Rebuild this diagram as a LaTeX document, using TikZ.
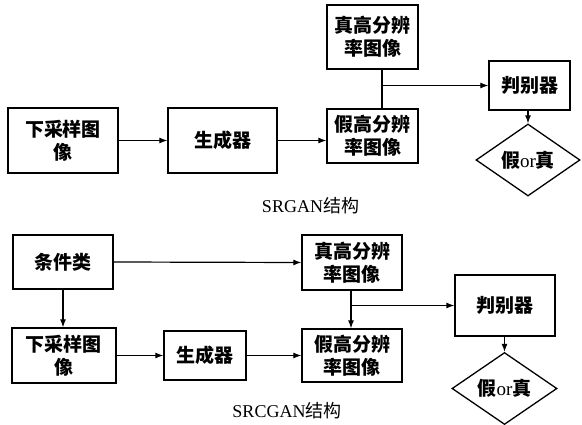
\documentclass[tikz,border=0pt]{standalone}
\usepackage{fontspec}
\setmainfont{Liberation Serif}
\newfontfamily\cjk{Noto Sans CJK SC}
\usetikzlibrary{shapes.geometric,arrows.meta}

\begin{document}
\begin{tikzpicture}[x=1pt,y=-1pt,
  box/.style={draw,line width=1.3pt,inner sep=0pt,align=center,font=\cjk\bfseries\fontsize{19}{23}\selectfont},
  judge/.style={draw,diamond,line width=1.3pt,inner sep=0pt,font=\fontsize{19}{23}\selectfont},
  caption/.style={font=\fontsize{18}{20}\selectfont},
  flow/.style={line width=1.2pt,-{Latex[length=8pt,width=6pt]}},
  link/.style={line width=1.2pt}]
\useasboundingbox (0,0) rectangle (582,425);

% SRGAN
\node [box,minimum width=110pt,minimum height=65pt] (ds1) at (63,140.5) {下采样图\\像};
\node [box,minimum width=109pt,minimum height=65pt] (gen1) at (222.5,140.5) {生成器};
\node [box,minimum width=91pt,minimum height=64pt] (real1) at (372.5,37) {真高分辨\\率图像};
\node [box,minimum width=91pt,minimum height=54pt] (fake1) at (372.5,136) {假高分辨\\率图像};
\node [box,minimum width=81pt,minimum height=49pt] (disc1) at (529.5,85.5) {判别器};
\node [judge,minimum width=104pt,minimum height=66pt] (out1) at (528,160) {{\cjk\bfseries 假}or{\cjk\bfseries 真}};
\node [caption] (cap1) at (310.5,206) {SRGAN{\cjk 结构}};
\coordinate (j1) at (382,85.5);

\draw [flow] (ds1.east) -- (gen1.west);
\draw [flow] (gen1.east) -- (gen1.east -| fake1.west);
\draw [link] (real1.south -| j1) -- (fake1.north -| j1);
\draw [flow] (j1) -- (disc1.west);
\draw [flow] (disc1.south -| out1.north) -- (out1.north);

% SRCGAN
\node [box,minimum width=100pt,minimum height=54pt] (cond2) at (63,262) {条件类};
\node [box,minimum width=104pt,minimum height=55pt] (ds2) at (64,355.5) {下采样图\\像};
\node [box,minimum width=82pt,minimum height=49pt] (gen2) at (205,355.5) {生成器};
\node [box,minimum width=100pt,minimum height=55pt] (real2) at (352,262.5) {真高分辨\\率图像};
\node [box,minimum width=100pt,minimum height=53pt] (fake2) at (352,355.5) {假高分辨\\率图像};
\node [box,minimum width=100pt,minimum height=61pt] (disc2) at (505,305.5) {判别器};
\node [judge,minimum width=105pt,minimum height=63pt] (out2) at (504.5,388.5) {{\cjk\bfseries 假}or{\cjk\bfseries 真}};
\node [caption] (cap2) at (287,411) {SRCGAN{\cjk 结构}};
\coordinate (j2) at (351,305.5);

\draw [flow] (cond2.south -| 63,0) -- (ds2.north -| 63,0);
\draw [flow] (cond2.east) -- (real2.west);
\draw [flow] (ds2.east) -- (gen2.west);
\draw [flow] (gen2.east) -- (fake2.west);
\draw [flow] (real2.south -| j2) -- (fake2.north -| j2);
\draw [flow] (j2) -- (disc2.west);
\draw [flow] (disc2.south -| out2.north) -- (out2.north);

\end{tikzpicture}
\end{document}
